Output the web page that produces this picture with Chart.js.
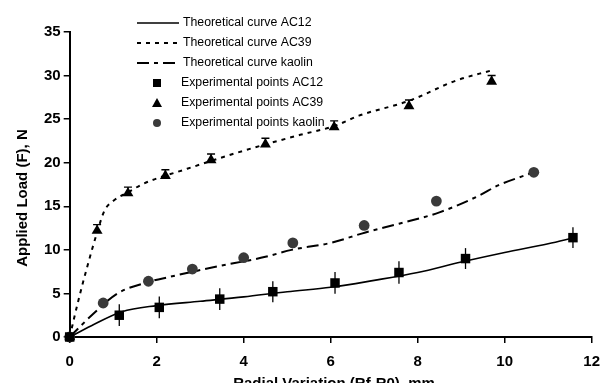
<!DOCTYPE html>
<html>
<head>
<meta charset="utf-8">
<script src="https://cdn.jsdelivr.net/npm/chart.js@4"></script>
<style>
html,body{margin:0;padding:0;background:#fff;overflow:hidden;}
canvas{display:block;}
</style>
</head>
<body>
<canvas id="c" width="610" height="383"></canvas>
<script>
// ---- data ----
const expAC12X = [0, 1.14, 2.06, 3.45, 4.67, 6.1, 7.57, 9.1, 11.57];
const expAC12Y = [0, 2.5, 3.4, 4.35, 5.2, 6.2, 7.4, 9.0, 11.4];
const expAC12Err = [0, 1.25, 1.25, 1.25, 1.2, 1.25, 1.3, 1.2, 1.2];

const expAC39X = [0, 0.63, 1.34, 2.2, 3.25, 4.5, 6.08, 7.8, 9.7];
const expAC39Y = [0, 12.2, 16.5, 18.5, 20.3, 22.1, 24.1, 26.5, 29.3];
const expAC39Err = [0, 0.7, 0.7, 0.7, 0.7, 0.7, 0.7, 0.7, 0.7];

const expKaoX = [0, 0.77, 1.81, 2.82, 4.0, 5.13, 6.77, 8.43, 10.67];
const expKaoY = [0, 3.9, 6.4, 7.8, 9.1, 10.8, 12.8, 15.6, 18.9];

const thAC12X = [0, 0.5, 1.2, 2, 3, 4, 5, 6, 7, 8, 9, 10, 11, 11.6];
const thAC12Y = [0, 1.3, 2.9, 3.6, 4.1, 4.6, 5.2, 5.7, 6.5, 7.4, 8.6, 9.7, 10.7, 11.4];

const thAC39X = [0, 0.2, 0.4, 0.63, 0.8, 1.0, 1.34, 1.7, 2.7, 3.75, 4.5, 5.3, 6.08, 6.65, 7.8, 8.87, 9.7];
const thAC39Y = [0, 4.2, 8, 12, 14.5, 15.6, 16.6, 17.6, 19.3, 21.0, 22.1, 23.2, 24.2, 25.4, 27.1, 29.4, 30.6];

const thKaoX = [0, 0.55, 1.1, 1.8, 2.3, 3.3, 4.5, 5.1, 6.0, 6.8, 7.57, 8.5, 9.4, 9.85, 10.67];
const thKaoY = [0, 2.7, 5.0, 6.3, 6.9, 8.0, 9.2, 10.0, 10.8, 12.0, 13.0, 14.3, 16.2, 17.4, 18.9];

const xTicks = [0, 2, 4, 6, 8, 10, 12];
const yTicks = [0, 5, 10, 15, 20, 25, 30, 35];

const legendLabels = [
  'Theoretical curve AC12',
  'Theoretical curve AC39',
  'Theoretical curve kaolin',
  'Experimental points AC12',
  'Experimental points AC39',
  'Experimental points kaolin'
];
const xTitle = 'Radial Variation (Rf-R0), mm';
const yTitle = 'Applied Load (F), N';

const pts = (xs, ys) => xs.map((x, i) => ({x: x, y: ys[i]}));

const FONT = '"Liberation Sans", Arial, sans-serif';
const KAO_COLOR = '#3a3a3a';

const errorBars = {
  id: 'errorBars',
  afterDatasetsDraw(chart) {
    const ctx = chart.ctx, xs = chart.scales.x, ys = chart.scales.y;
    ctx.save();
    ctx.strokeStyle = '#000';
    ctx.lineWidth = 1.3;
    expAC12X.forEach((x, i) => {
      const e = expAC12Err[i];
      if (!e) return;
      const px = xs.getPixelForValue(x);
      ctx.beginPath();
      ctx.moveTo(px, ys.getPixelForValue(expAC12Y[i] - e));
      ctx.lineTo(px, ys.getPixelForValue(expAC12Y[i] + e));
      ctx.stroke();
    });
    ctx.lineWidth = 1.4;
    expAC39X.forEach((x, i) => {
      const e = expAC39Err[i];
      if (!e) return;
      const px = xs.getPixelForValue(x);
      const py0 = ys.getPixelForValue(expAC39Y[i]);
      const py1 = ys.getPixelForValue(expAC39Y[i] + e);
      ctx.beginPath();
      ctx.moveTo(px, py0);
      ctx.lineTo(px, py1);
      ctx.moveTo(px - 4, py1);
      ctx.lineTo(px + 4, py1);
      ctx.stroke();
    });
    ctx.restore();
  }
};

const customLegend = {
  id: 'customLegend',
  afterDraw(chart) {
    const ctx = chart.ctx;
    ctx.save();
    const rows = [23, 43, 63, 83, 103, 123];
    const x0 = 137, x1 = 179, mx = 157;
    ctx.strokeStyle = '#000';
    const dashes = [[], [4, 5], [12, 5, 4, 5]];
    for (let i = 0; i < 3; i++) {
      ctx.setLineDash(dashes[i]);
      ctx.lineWidth = i === 0 ? 1.6 : 2;
      ctx.beginPath();
      ctx.moveTo(x0, rows[i]);
      ctx.lineTo(x1, rows[i]);
      ctx.stroke();
    }
    ctx.setLineDash([]);
    ctx.fillStyle = '#000';
    ctx.fillRect(mx - 4, rows[3] - 4, 8, 8);
    ctx.beginPath();
    ctx.moveTo(mx, rows[4] - 5);
    ctx.lineTo(mx + 5, rows[4] + 4);
    ctx.lineTo(mx - 5, rows[4] + 4);
    ctx.closePath();
    ctx.fill();
    ctx.fillStyle = KAO_COLOR;
    ctx.beginPath();
    ctx.arc(mx, rows[5], 4, 0, Math.PI * 2);
    ctx.fill();
    ctx.fillStyle = '#000';
    ctx.font = '12.3px ' + FONT;
    ctx.textBaseline = 'middle';
    ctx.textAlign = 'left';
    legendLabels.forEach((t, i) => {
      ctx.fillText(t, i < 3 ? 183 : 181, rows[i]);
    });
    ctx.font = 'bold 15px ' + FONT;
    ctx.textAlign = 'center';
    ctx.textBaseline = 'alphabetic';
    ctx.fillText(xTitle, 334, 388);
    ctx.translate(27, 198);
    ctx.rotate(-Math.PI / 2);
    ctx.fillText(yTitle, 0, 0);
    ctx.restore();
  }
};

new Chart(document.getElementById('c'), {
  type: 'scatter',
  data: {
    datasets: [
      {label: legendLabels[3], data: pts(expAC12X, expAC12Y), pointStyle: 'rect', pointRadius: 6.7,
        backgroundColor: '#000', borderColor: '#000', borderWidth: 0, showLine: false, order: 0, clip: false},
      {label: legendLabels[4], data: pts(expAC39X, expAC39Y), pointStyle: 'triangle', pointRadius: 6.3,
        backgroundColor: '#000', borderColor: '#000', borderWidth: 0, showLine: false, order: 0, clip: false},
      {label: legendLabels[5], data: pts(expKaoX, expKaoY), pointStyle: 'circle', pointRadius: 5.4,
        backgroundColor: KAO_COLOR, borderColor: KAO_COLOR, borderWidth: 0, showLine: false, order: 0, clip: false},
      {label: legendLabels[0], data: pts(thAC12X, thAC12Y), showLine: true, pointRadius: 0,
        borderColor: '#000', borderWidth: 1.6, cubicInterpolationMode: 'monotone', order: 1},
      {label: legendLabels[1], data: pts(thAC39X, thAC39Y), showLine: true, pointRadius: 0,
        borderColor: '#000', borderWidth: 2, borderDash: [4, 5], cubicInterpolationMode: 'monotone', order: 1},
      {label: legendLabels[2], data: pts(thKaoX, thKaoY), showLine: true, pointRadius: 0,
        borderColor: '#000', borderWidth: 2, borderDash: [12, 5, 4, 5], cubicInterpolationMode: 'monotone', order: 1}
    ]
  },
  options: {
    responsive: false,
    animation: false,
    events: [],
    layout: {padding: {left: 41, top: 32, right: 15, bottom: 2}},
    plugins: {legend: {display: false}, tooltip: {enabled: false}},
    scales: {
      x: {
        type: 'linear', min: 0, max: 12,
        afterBuildTicks: (s) => { s.ticks = xTicks.map(v => ({value: v})); },
        grid: {display: true, drawOnChartArea: false, drawTicks: true, tickLength: 6, color: '#000', lineWidth: 1.5},
        border: {display: true, color: '#000', width: 2},
        ticks: {color: '#000', font: {family: FONT, size: 15, weight: 'bold'}, padding: 10, maxRotation: 0}
      },
      y: {
        type: 'linear', min: 0, max: 35,
        afterBuildTicks: (s) => { s.ticks = yTicks.map(v => ({value: v})); },
        grid: {display: true, drawOnChartArea: false, drawTicks: true, tickLength: 6, color: '#000', lineWidth: 1.5},
        border: {display: true, color: '#000', width: 2},
        ticks: {color: '#000', font: {family: FONT, size: 15, weight: 'bold'}, padding: 3}
      }
    }
  },
  plugins: [errorBars, customLegend]
});
</script>
</body>
</html>
